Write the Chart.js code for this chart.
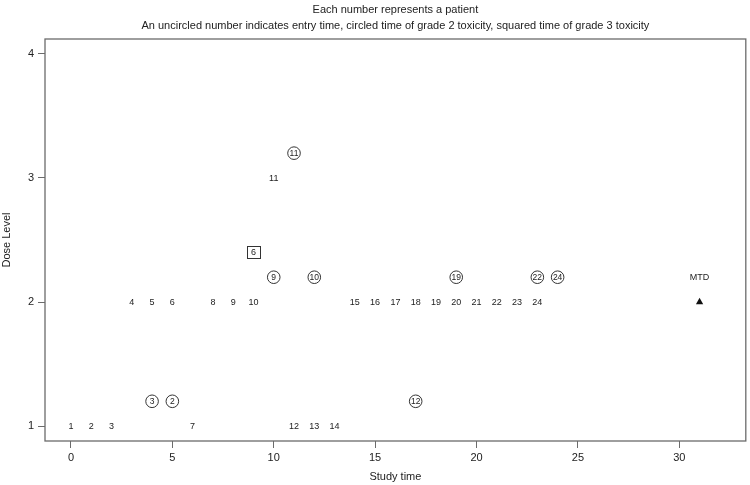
<!DOCTYPE html>
<html>
<head>
<meta charset="utf-8">
<script src="https://cdn.jsdelivr.net/npm/chart.js@4.4.0/dist/chart.umd.min.js"></script>
<style>
  html, body { margin: 0; padding: 0; background: #fff; }
  #wrap { width: 750px; height: 485px; }
</style>
</head>
<body>
<div id="wrap"><canvas id="chart"></canvas></div>
<script>
const titleText = 'Each number represents a patient';
const subtitleText = 'An uncircled number indicates entry time, circled time of grade 2 toxicity, squared time of grade 3 toxicity';

// entry time of each patient (uncircled numbers)
const entryPatient = [1, 2, 3, 4, 5, 6, 7, 8, 9, 10, 11, 12, 13, 14, 15, 16, 17, 18, 19, 20, 21, 22, 23, 24];
const entryTime    = [0, 1, 2, 3, 4, 5, 6, 7, 8, 9, 10, 11, 12, 13, 14, 15, 16, 17, 18, 19, 20, 21, 22, 23];
const entryDose    = [1, 1, 1, 2, 2, 2, 1, 2, 2, 2, 3, 1, 1, 1, 2, 2, 2, 2, 2, 2, 2, 2, 2, 2];

// grade 2 toxicity (circled)
const g2Patient = [3, 2, 12, 9, 10, 19, 22, 24, 11];
const g2Time    = [4, 5, 17, 10, 12, 19, 23, 24, 11];
const g2Dose    = [1, 1, 1, 2, 2, 2, 2, 2, 3];

// grade 3 toxicity (squared)
const g3Patient = [6];
const g3Time    = [9];
const g3Dose    = [2];

// maximum tolerated dose
const mtdTime = [31];
const mtdDose = [2];

const xTicks = [0, 5, 10, 15, 20, 25, 30];
const yTicks = [1, 2, 3, 4];

const G2_OFF = 0.2, G3_OFF = 0.4, MTD_OFF = 0.2;

const pts = (xs, ys, off) => xs.map((x, i) => ({ x: x, y: ys[i] + off }));

const FONT = '"Liberation Sans", Arial, Helvetica, sans-serif';
const AXIS_COL = '#6b6b6b';
const TEXT_COL = '#222';

const patientLabels = {
  id: 'patientLabels',
  afterDatasetsDraw(chart) {
    const ctx = chart.ctx;
    ctx.save();
    chart.data.datasets.forEach((ds, i) => {
      if (!ds.labels) return;
      const meta = chart.getDatasetMeta(i);
      meta.data.forEach((pt, j) => {
        const txt = String(ds.labels[j]);
        ctx.fillStyle = TEXT_COL;
        ctx.textAlign = 'center';
        ctx.textBaseline = 'middle';
        if (ds.mark === 'circle') {
          ctx.font = '8.5px ' + FONT;
          ctx.fillText(txt, pt.x, pt.y + 0.5);
          ctx.strokeStyle = '#333';
          ctx.lineWidth = 1;
          ctx.beginPath();
          ctx.arc(pt.x, pt.y, 6.3, 0, Math.PI * 2);
          ctx.stroke();
        } else if (ds.mark === 'square') {
          ctx.font = '9px ' + FONT;
          ctx.fillText(txt, pt.x, pt.y + 0.5);
          ctx.strokeStyle = '#333';
          ctx.lineWidth = 1;
          ctx.strokeRect(Math.round(pt.x - 6.5) + 0.5, Math.round(pt.y - 6) + 0.5, 13, 12);
        } else {
          ctx.font = '9px ' + FONT;
          ctx.fillText(txt, pt.x, pt.y + 0.5);
        }
      });
    });
    ctx.restore();
  }
};

const frameAndTitles = {
  id: 'frameAndTitles',
  afterDraw(chart) {
    const { ctx, chartArea: a } = chart;
    ctx.save();
    ctx.strokeStyle = AXIS_COL;
    ctx.lineWidth = 1.3;
    ctx.strokeRect(a.left, a.top, a.right - a.left, a.bottom - a.top);
    const cx = (a.left + a.right) / 2;
    ctx.fillStyle = TEXT_COL;
    ctx.textAlign = 'center';
    ctx.textBaseline = 'middle';
    ctx.font = '11px ' + FONT;
    ctx.fillText(titleText, cx, 9.5);
    ctx.fillText(subtitleText, cx, 26);
    ctx.restore();
  }
};

new Chart(document.getElementById('chart'), {
  type: 'scatter',
  data: {
    datasets: [
      { label: 'entry', data: pts(entryTime, entryDose, 0), labels: entryPatient, mark: 'none', pointRadius: 0 },
      { label: 'grade 2', data: pts(g2Time, g2Dose, G2_OFF), labels: g2Patient, mark: 'circle', pointRadius: 0 },
      { label: 'grade 3', data: pts(g3Time, g3Dose, G3_OFF), labels: g3Patient, mark: 'square', pointRadius: 0 },
      { label: 'MTD label', data: pts(mtdTime, mtdDose, MTD_OFF), labels: ['MTD'], mark: 'none', pointRadius: 0 },
      { label: 'MTD', data: pts(mtdTime, mtdDose, 0), pointStyle: 'triangle', pointRadius: 4.2,
        backgroundColor: '#111', borderColor: '#111', borderWidth: 0 }
    ]
  },
  options: {
    responsive: true,
    maintainAspectRatio: false,
    animation: false,
    layout: { padding: { top: 39, right: 3, bottom: 0, left: 0 } },
    plugins: {
      legend: { display: false },
      tooltip: { enabled: false }
    },
    scales: {
      x: {
        type: 'linear',
        min: -1.28,
        max: 33.28,
        afterBuildTicks: (s) => { s.ticks = xTicks.map(v => ({ value: v })); },
        afterFit: (s) => { s.height = 44; },
        border: { display: false },
        grid: { drawOnChartArea: false, drawTicks: true, tickLength: 7, color: AXIS_COL, lineWidth: 1 },
        ticks: { color: TEXT_COL, padding: 3, font: { family: FONT, size: 11 }, maxRotation: 0 },
        title: { display: true, text: 'Study time', color: TEXT_COL, font: { family: FONT, size: 11 }, padding: { top: 0, bottom: 1 } }
      },
      y: {
        type: 'linear',
        min: 0.88,
        max: 4.12,
        afterBuildTicks: (s) => { s.ticks = yTicks.map(v => ({ value: v })); },
        afterFit: (s) => { s.width = 45; },
        border: { display: false },
        grid: { drawOnChartArea: false, drawTicks: true, tickLength: 7, color: AXIS_COL, lineWidth: 1 },
        ticks: { color: TEXT_COL, padding: 4, font: { family: FONT, size: 11 } },
        title: { display: true, text: 'Dose Level', color: TEXT_COL, font: { family: FONT, size: 11 }, padding: { top: 0 } }
      }
    }
  },
  plugins: [patientLabels, frameAndTitles]
});
</script>
</body>
</html>
